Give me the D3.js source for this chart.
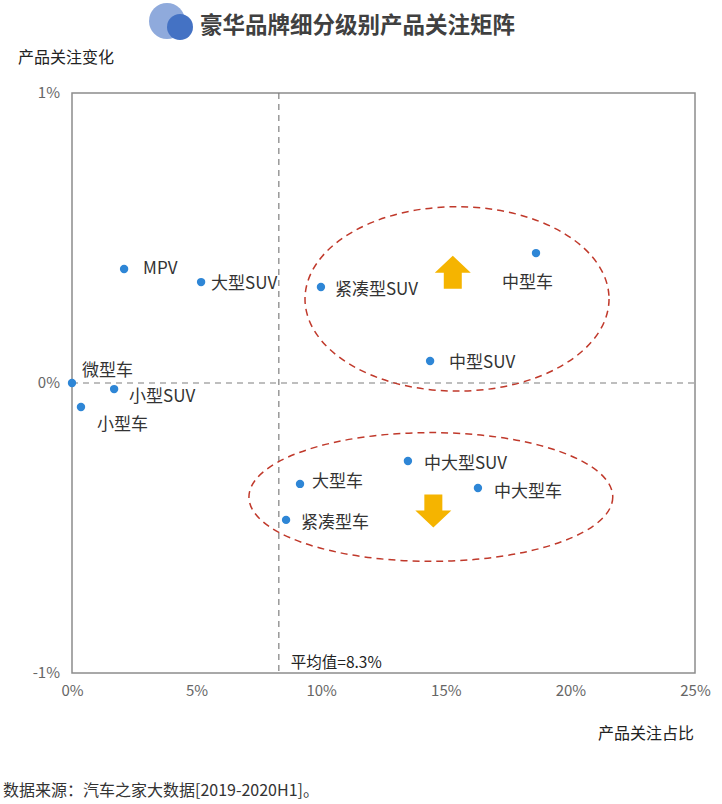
<!DOCTYPE html>
<html><head><meta charset="utf-8">
<script src="https://cdn.jsdelivr.net/npm/d3@7"></script>
<style>
body{margin:0;background:#fff;}
text{font-family:"Microsoft YaHei","Noto Sans CJK SC",sans-serif;}
</style></head>
<body><svg id="c" width="722" height="804"></svg>
<script>
const categories = ["微型车","小型车","小型SUV","MPV","大型SUV","紧凑型SUV","中型SUV","中型车","中大型SUV","大型车","中大型车","紧凑型车"];
const shareValues = [0.0, 0.36, 1.69, 2.09, 5.18, 9.99, 14.37, 18.62, 13.48, 9.15, 16.29, 8.59];
const changeValues = [0.0, -0.083, -0.021, 0.393, 0.348, 0.331, 0.076, 0.448, -0.269, -0.348, -0.362, -0.472];
const xTicks = [0, 5, 10, 15, 20, 25];
const yTicks = [-1, 0, 1];
const averageShare = 8.3;
// label offsets (px) relative to each point
const labelOffsets = [[10,-13],[16,17],[15,7],[19,-1],[10,1],[14,2],[19,1],[-34,29],[16,2],[12,-3],[16,3],[15,2]];
// highlight ellipses in data space: [cx, cy, rx, ry]
const ellipses = [[15.45, 0.29, 6.1, 0.318],[14.4, -0.393, 7.3, 0.222]];
const arrows = [[15.28, 0.38, "up"],[14.5, -0.44, "down"]];

const svg = d3.select("#c");
const M = {l:72, r:695, t:93, b:673};
const x = d3.scaleLinear().domain([0,25]).range([M.l, M.r]);
const y = d3.scaleLinear().domain([-1,1]).range([M.b, M.t]);
const FF = "'Microsoft YaHei','Noto Sans CJK SC',sans-serif";

// title
svg.append("circle").attr("cx",167).attr("cy",21).attr("r",18).attr("fill","#8faadc");
svg.append("circle").attr("cx",180).attr("cy",27).attr("r",13).attr("fill","#4472c4");
svg.append("text").attr("x",200).attr("y",33).attr("font-size",22.5).attr("font-weight","bold").attr("fill","#404040").text("豪华品牌细分级别产品关注矩阵");

svg.append("text").attr("x",18).attr("y",63).attr("font-size",16).attr("fill","#222").text("产品关注变化");
svg.append("text").attr("x",694).attr("y",739).attr("font-size",16).attr("fill","#222").attr("text-anchor","end").text("产品关注占比");
svg.append("text").attr("x",3).attr("y",796).attr("font-size",16).attr("fill","#333").text("数据来源：汽车之家大数据[2019-2020H1]。");

// frame
svg.append("rect").attr("x",M.l).attr("y",M.t).attr("width",M.r-M.l).attr("height",M.b-M.t)
  .attr("fill","none").attr("stroke","#8c8c8c").attr("stroke-width",1.5);

// axes
const xAxis = d3.axisBottom(x).tickValues(xTicks).tickFormat(d=>d+"%").tickSize(0).tickPadding(12);
const gx = svg.append("g").attr("transform",`translate(0,${M.b})`).call(xAxis);
gx.select(".domain").remove();
gx.selectAll("text").attr("font-size",15).attr("fill","#666").attr("font-family",FF);
const yAxis = d3.axisLeft(y).tickValues(yTicks).tickFormat(d=>d+"%").tickSize(0).tickPadding(12);
const gy = svg.append("g").attr("transform",`translate(${M.l},0)`).call(yAxis);
gy.select(".domain").remove();
gy.selectAll("text").attr("font-size",15).attr("fill","#666").attr("font-family",FF);

// reference lines
svg.append("line").attr("x1",x(0)).attr("x2",x(25)).attr("y1",y(0)).attr("y2",y(0))
  .attr("stroke","#7f7f7f").attr("stroke-dasharray","6,5").attr("stroke-width",1.2);
svg.append("line").attr("x1",x(averageShare)).attr("x2",x(averageShare)).attr("y1",y(1)).attr("y2",y(-1))
  .attr("stroke","#7f7f7f").attr("stroke-dasharray","6,5").attr("stroke-width",1.2);
svg.append("text").attr("x",x(averageShare)+12).attr("y",y(-1)-5).attr("font-size",15.5).attr("fill","#222").text("平均值="+averageShare+"%");

// ellipses
svg.selectAll("ellipse.hl").data(ellipses).join("ellipse").attr("class","hl")
  .attr("cx",d=>x(d[0])).attr("cy",d=>y(d[1]))
  .attr("rx",d=>x(d[2])-x(0)).attr("ry",d=>y(0)-y(d[3]))
  .attr("fill","none").attr("stroke","#c0392b").attr("stroke-width",1.5).attr("stroke-dasharray","7,5");

// arrows
const arrowPath = "M0,-17 L-18,0 L-9,0 L-9,16 L9,16 L9,0 L18,0 Z";
svg.selectAll("path.arr").data(arrows).join("path").attr("class","arr")
  .attr("d",arrowPath).attr("fill","#f5b400")
  .attr("transform",d=>`translate(${x(d[0])},${y(d[1])}) scale(1,${d[2]==="up"?1:-1})`);

// points
const pts = categories.map((c,i)=>({name:c, sx:shareValues[i], cy:changeValues[i], off:labelOffsets[i]}));
svg.selectAll("circle.pt").data(pts).join("circle").attr("class","pt")
  .attr("cx",d=>x(d.sx)).attr("cy",d=>y(d.cy)).attr("r",4.2).attr("fill","#2e86d6");
svg.selectAll("text.lb").data(pts).join("text").attr("class","lb")
  .attr("x",d=>x(d.sx)+d.off[0]).attr("y",d=>y(d.cy)+d.off[1]+6)
  .attr("font-size",17).attr("fill","#333").text(d=>d.name);
</script></body></html>
